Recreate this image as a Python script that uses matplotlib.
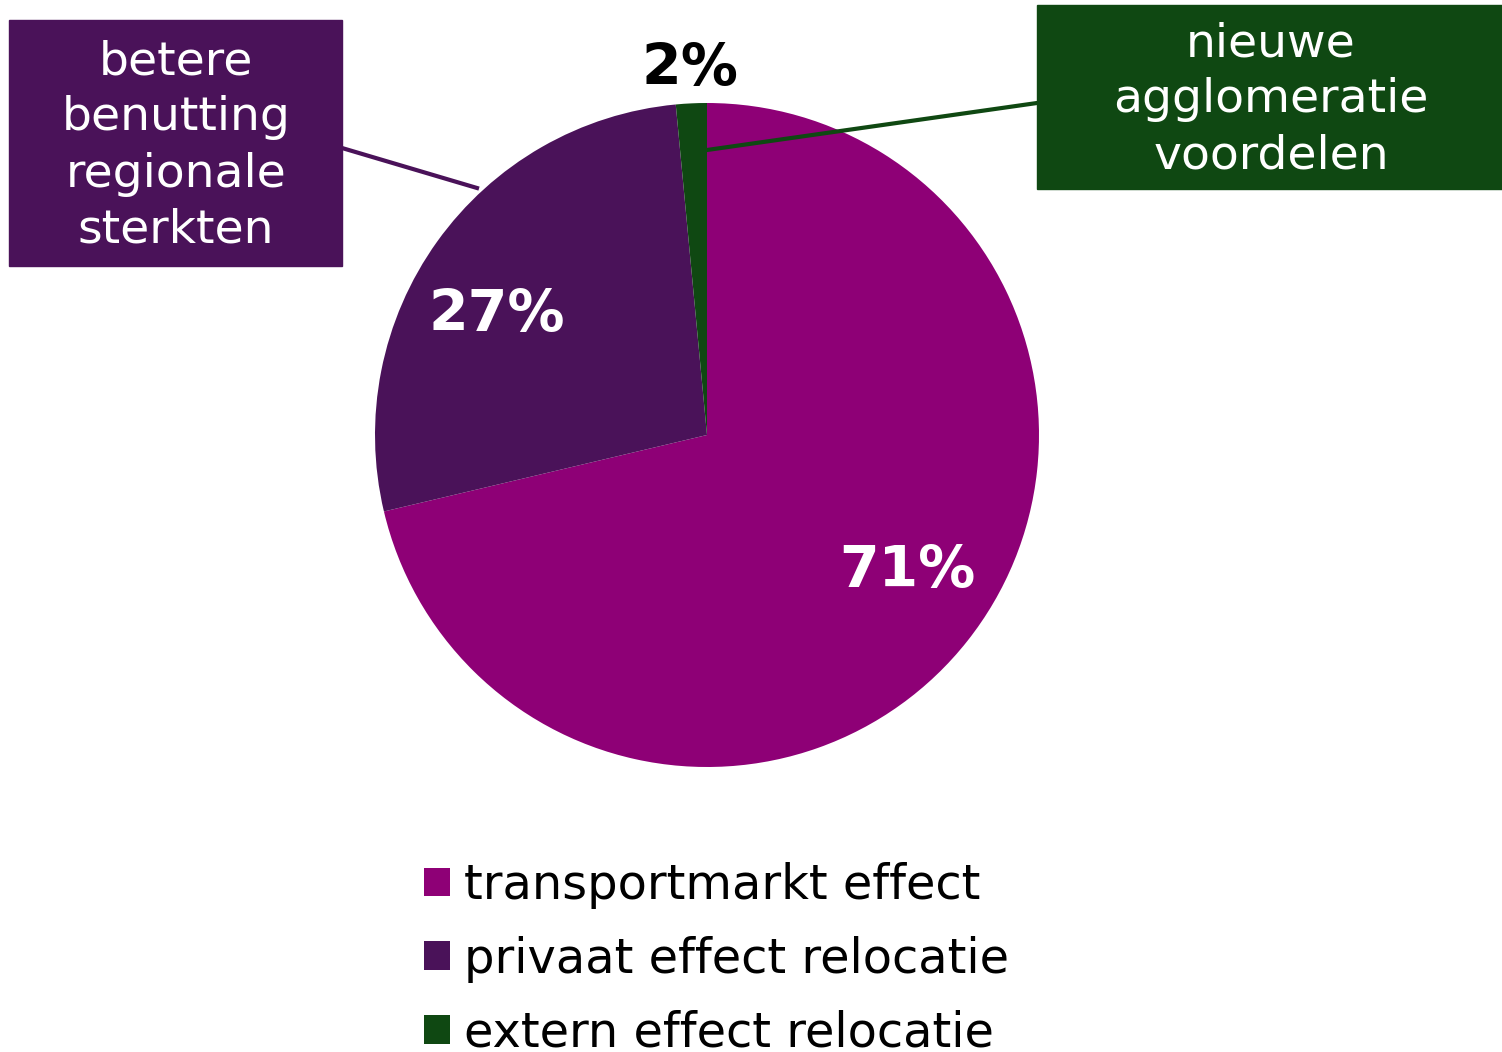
import matplotlib.pyplot as plt

labels = ['transportmarkt effect', 'privaat effect relocatie', 'extern effect relocatie']
shares = [71.3, 27.2, 1.5]
pct_labels = ['71%', '27%', '2%']
colors = ['#8E0076', '#4A1259', '#0F4812']
box_texts = ['betere\nbenutting\nregionale\nsterkten', 'nieuwe\nagglomeratie\nvoordelen']

W, H = 1502, 1052
fig = plt.figure(figsize=(W / 100, H / 100), dpi=100)
ax = fig.add_axes([0, 0, 1, 1])

cx, cy, r = 707, H - 435, 332
wedges, _ = ax.pie(shares, colors=colors, startangle=90, counterclock=False,
                   center=(cx, cy), radius=r, frame=True)
ax.set_xlim(0, W)
ax.set_ylim(0, H)
ax.set_aspect('equal')
ax.axis('off')

# percentage labels
pct_pos = [(907, 572, 'white'), (497, 316, 'white'), (690, 70, 'black')]
for txt, (x, y, c) in zip(pct_labels, pct_pos):
    ax.text(x, H - y, txt, color=c, fontsize=41, fontweight='bold',
            ha='center', va='center')

# callout boxes
ax.add_patch(plt.Rectangle((9, H - 266), 333, 246, color=colors[1], zorder=3))
ax.text(176, H - 146, box_texts[0], color='white', fontsize=34, ha='center',
        va='center', linespacing=1.32, zorder=4)
ax.plot([342, 477], [H - 148, H - 188], color=colors[1], lw=3, zorder=3)

ax.add_patch(plt.Rectangle((1037, H - 189), 465, 184, color=colors[2], zorder=3))
ax.text(1271, H - 100, box_texts[1], color='white', fontsize=34, ha='center',
        va='center', linespacing=1.32, zorder=4)
ax.plot([1037, 707], [H - 103, H - 150], color=colors[2], lw=3, zorder=3)

ax.legend(wedges, labels, loc='upper left', bbox_to_anchor=(424 / W, 1 - 862 / H),
          bbox_transform=fig.transFigure, frameon=False, fontsize=34.5,
          handlelength=0.55, handleheight=0.55, handletextpad=0.28,
          labelspacing=0.56, borderpad=0, borderaxespad=0)

fig.savefig('out.png', dpi=100)
